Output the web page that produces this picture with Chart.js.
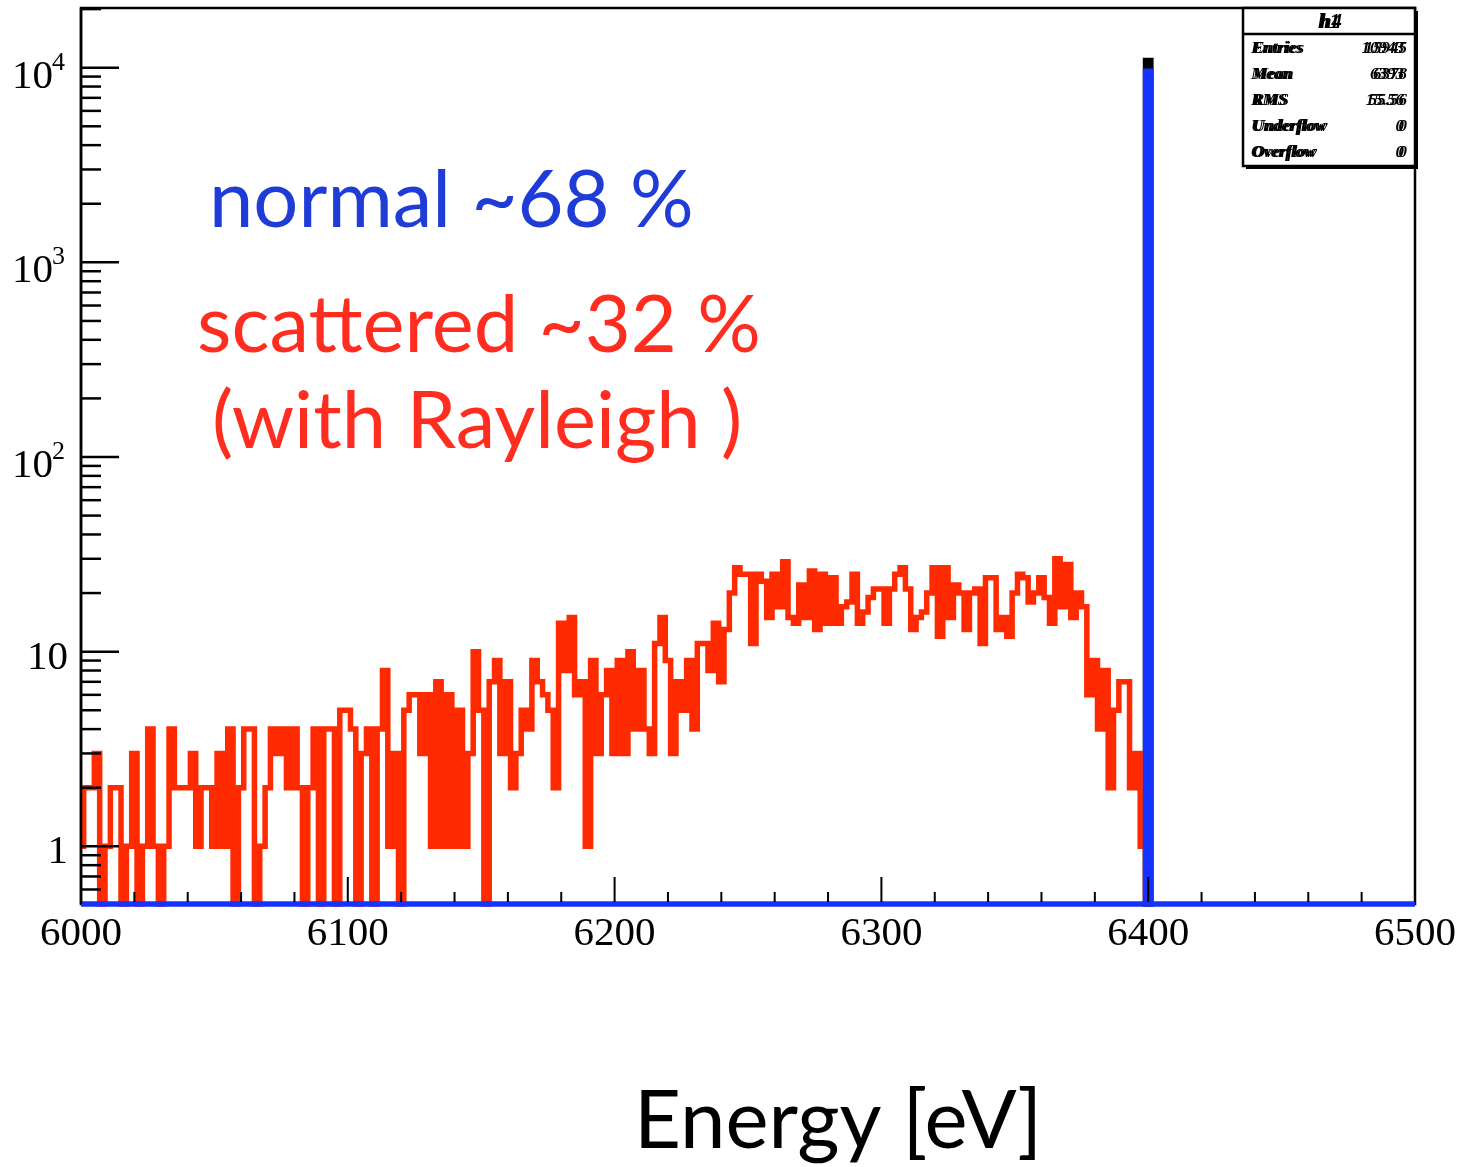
<!DOCTYPE html>
<html>
<head>
<meta charset="utf-8">
<script src="https://cdn.jsdelivr.net/npm/chart.js@4.4.1/dist/chart.umd.min.js"></script>
<style>
  html, body { margin: 0; padding: 0; background: #fff; }
</style>
</head>
<body>
<canvas id="spectrum" width="1463" height="1167"></canvas>
<script>
// Histogram binning: bin centres every 2 eV starting at 6000 eV
const BIN_START = 6000;
const BIN_WIDTH = 2;

// Scattered photons (red), counts per bin, 6000 .. 6400 eV
const scatteredCounts = [
  1, 2, 2, 3, 0, 1, 2, 2, 0, 1, 3, 0, 1, 4, 1, 0, 1, 4, 2, 2, 2, 3, 1, 2, 2,
  1, 3, 1, 4, 0, 2, 4, 4, 0, 1, 2, 4, 3, 4, 2, 4, 2, 0, 2, 4, 0, 4, 4, 0, 5,
  5, 4, 0, 3, 4, 0, 4, 8, 1, 3, 0, 5, 6, 6, 3, 6, 1, 7, 1, 6, 1, 5, 1, 3, 10,
  5, 0, 7, 9, 3, 7, 2, 3, 5, 4, 9, 7, 6, 5, 2, 14, 8, 15, 6, 7, 1, 9, 3, 6, 8,
  3, 9, 3, 10, 4, 8, 4, 3, 11, 15, 9, 3, 7, 5, 9, 4, 11, 11, 8, 14, 7, 13, 20, 27, 25,
  25, 11, 25, 23, 15, 25, 17, 29, 15, 14, 22, 15, 26, 13, 25, 14, 24, 14, 17, 18, 25, 14, 16, 19, 21,
  21, 14, 21, 25, 27, 21, 13, 15, 16, 20, 27, 12, 27, 15, 22, 20, 13, 20, 21, 11, 24, 24, 13, 15, 12,
  20, 25, 24, 18, 20, 24, 19, 14, 30, 17, 28, 15, 20, 17, 6, 9, 4, 8, 2, 5, 7, 7, 2, 3, 1,
  0
];
const scatteredEnergy = scatteredCounts.map((_, i) => BIN_START + i * BIN_WIDTH);

// Unscattered line (blue)
const normalEnergy = [6000, 6398, 6400, 6402, 6500];
const normalCounts = [0, 0, 9600, 0, 0];

// Total histogram, only its top shows above the blue peak
const totalEnergy = [6398, 6400, 6402];
const totalCounts = [0, 10900, 0];

// Axes
const X_MIN = 6000, X_MAX = 6500;
const Y_MIN = 0.5054, Y_MAX = 20260;
const xMajorTicks = [6000, 6100, 6200, 6300, 6400, 6500];
const xTickLabels = ['6000', '6100', '6200', '6300', '6400', '6500'];
const yDecades = [1, 10, 100, 1000, 10000];
const yDecadeBase = ['1', '10', '10', '10', '10'];
const yDecadeExp = ['', '', '2', '3', '4'];

// Stats box (two boxes printed on top of each other)
const statsNames = ['Entries', 'Mean', 'RMS', 'Underflow', 'Overflow'];
const statsValuesA = ['15945', '6378', '55.56', '0', '0'];
const statsValuesB = ['10943', '6393', '15.56', '0', '0'];

// empty bins sit on the bottom of the log axis, like ROOT draws them
const toPoints = (xs, ys) => xs.map((x, i) => ({ x: x, y: ys[i] > 0 ? ys[i] : Y_MIN }));

const SERIF = '"Liberation Serif", "DejaVu Serif", serif';
const SANS = 'Lato, "Open Sans", sans-serif';
const LINE_CLIP = { left: 3, top: 0, right: 3, bottom: 5 };

const rootAxes = {
  id: 'rootAxes',
  beforeDatasetsDraw(chart) {
    const { ctx, chartArea: a } = chart;
    ctx.save();
    ctx.strokeStyle = '#000';
    ctx.lineWidth = 2.5;
    ctx.strokeRect(a.left, a.top, a.right - a.left, a.bottom - a.top);
    ctx.restore();
  },
  afterDatasetsDraw(chart) {
    const { ctx, chartArea: a, scales } = chart;
    const xs = scales.x, ys = scales.y;
    ctx.save();
    ctx.strokeStyle = '#000';
    ctx.lineWidth = 2.5;

    // left axis line on top of the data
    ctx.beginPath();
    ctx.moveTo(a.left, a.top);
    ctx.lineTo(a.left, a.bottom);
    ctx.stroke();

    // x ticks: major every 100 eV, minor every 20 eV
    ctx.lineWidth = 2;
    for (let e = X_MIN; e <= X_MAX; e += 20) {
      const px = xs.getPixelForValue(e);
      const len = (e % 100 === 0) ? 27 : 12;
      ctx.beginPath();
      ctx.moveTo(px, a.bottom - 2);
      ctx.lineTo(px, a.bottom - len);
      ctx.stroke();
    }

    // y ticks: decades long, 2..9 short
    ctx.lineWidth = 2.5;
    for (let d = 0.1; d <= 10000; d *= 10) {
      for (let m = 1; m <= 9; m++) {
        const v = m * d;
        if (v < Y_MIN || v > Y_MAX) continue;
        const py = ys.getPixelForValue(v);
        const len = m === 1 ? 38 : 20;
        ctx.beginPath();
        ctx.moveTo(a.left, py);
        ctx.lineTo(a.left + len, py);
        ctx.stroke();
      }
    }

    // x labels
    ctx.fillStyle = '#000';
    ctx.font = '41px ' + SERIF;
    ctx.textAlign = 'center';
    ctx.textBaseline = 'alphabetic';
    xMajorTicks.forEach((e, i) => {
      ctx.fillText(xTickLabels[i], xs.getPixelForValue(e), 945);
    });

    // y labels with superscript exponents
    yDecades.forEach((v, i) => {
      const py = ys.getPixelForValue(v);
      ctx.textAlign = 'right';
      if (yDecadeExp[i]) {
        ctx.font = '41px ' + SERIF;
        ctx.fillText(yDecadeBase[i], 53, py + 20);
        ctx.font = '26px ' + SERIF;
        ctx.textAlign = 'left';
        ctx.fillText(yDecadeExp[i], 52, py + 2);
      } else {
        ctx.font = '41px ' + SERIF;
        ctx.fillText(yDecadeBase[i], 68, py + 17);
      }
    });
    ctx.restore();
  },
  afterDraw(chart) {
    const { ctx } = chart;
    ctx.save();

    // stats box
    const bx = 1243, by = 8, bw = 172, bh = 158;
    ctx.fillStyle = '#fff';
    ctx.fillRect(bx, by, bw, bh);
    ctx.fillStyle = '#000';
    ctx.fillRect(bx + 3, by + bh, bw, 3);
    ctx.fillRect(bx + bw, by + 3, 3, bh);
    ctx.strokeStyle = '#000';
    ctx.lineWidth = 2.5;
    ctx.strokeRect(bx, by, bw, bh);
    ctx.beginPath();
    ctx.moveTo(bx, 34);
    ctx.lineTo(bx + bw, 34);
    ctx.stroke();

    ctx.font = 'italic bold 21px ' + SERIF;
    ctx.textAlign = 'center';
    ctx.fillText('h1', 1329, 28);
    ctx.fillText('h4', 1331, 28);

    const rowY = [53, 79, 105, 131, 157];
    ctx.font = 'italic bold 17px ' + SERIF;
    statsNames.forEach((name, i) => {
      ctx.textAlign = 'left';
      ctx.fillText(name, 1251, rowY[i]);
      ctx.fillText(name, 1253, rowY[i]);
      ctx.textAlign = 'right';
      ctx.fillText(statsValuesA[i], 1407, rowY[i]);
      ctx.fillText(statsValuesB[i], 1404, rowY[i]);
    });

    // annotations
    ctx.textAlign = 'left';
    ctx.font = '79.5px ' + SANS;
    ctx.fillStyle = '#1f3dd6';
    ctx.fillText('normal ~68 %', 209, 227);
    ctx.fillStyle = '#ff2d1f';
    ctx.fillText('scattered ~32 %', 197, 352);
    ctx.fillText('(with Rayleigh )', 212, 448);

    ctx.fillStyle = '#000';
    ctx.font = '81.5px ' + SANS;
    ctx.fillText('Energy [eV]', 634, 1148);
    ctx.restore();
  }
};

const chart = new Chart(document.getElementById('spectrum'), {
  type: 'line',
  data: {
    datasets: [
      {
        label: 'normal',
        data: toPoints(normalEnergy, normalCounts),
        borderColor: '#1433ff',
        borderWidth: 5.5,
        stepped: 'middle',
        pointRadius: 0,
        fill: false,
        clip: LINE_CLIP,
        order: 0
      },
      {
        label: 'scattered',
        data: toPoints(scatteredEnergy, scatteredCounts),
        borderColor: '#ff2a00',
        borderWidth: 5.5,
        stepped: 'middle',
        pointRadius: 0,
        fill: false,
        clip: LINE_CLIP,
        order: 1
      },
      {
        label: 'total',
        data: toPoints(totalEnergy, totalCounts),
        borderColor: '#000',
        borderWidth: 5.5,
        stepped: 'middle',
        pointRadius: 0,
        fill: false,
        clip: LINE_CLIP,
        order: 2
      }
    ]
  },
  options: {
    responsive: false,
    devicePixelRatio: 1,
    animation: false,
    layout: { padding: { left: 81, top: 8, right: 48, bottom: 263 } },
    plugins: { legend: { display: false }, tooltip: { enabled: false } },
    scales: {
      x: { type: 'linear', min: X_MIN, max: X_MAX, display: false },
      y: { type: 'logarithmic', min: Y_MIN, max: Y_MAX, display: false }
    }
  },
  plugins: [rootAxes]
});
</script>
</body>
</html>
